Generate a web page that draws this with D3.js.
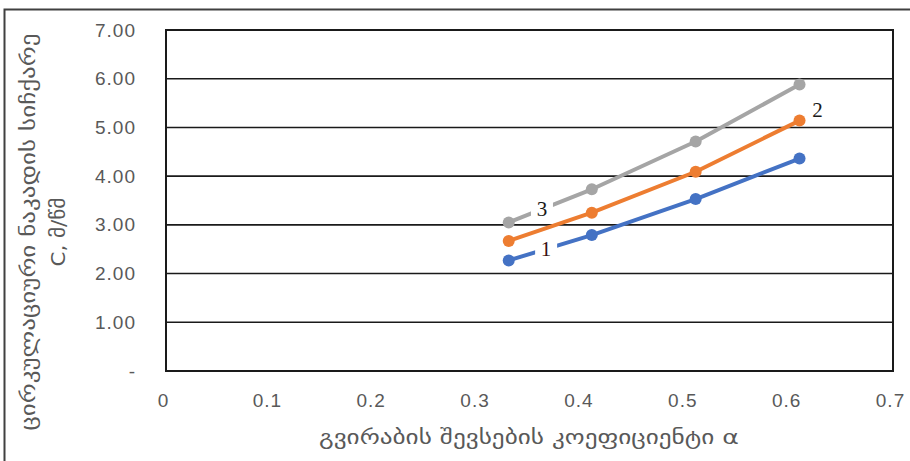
<!DOCTYPE html>
<html>
<head>
<meta charset="utf-8">
<script src="https://cdn.jsdelivr.net/npm/d3@7"></script>
<style>
  html, body { margin: 0; padding: 0; background: #fff; }
  svg { display: block; }
</style>
</head>
<body>
<svg id="chart" width="910" height="461"></svg>
<script>
// Filling coefficient of the tunnel (x) and circulation flow velocity (y, m/s)
const alphaValues = [0.33, 0.41, 0.51, 0.61];
const series1 = [2.27, 2.79, 3.53, 4.36];
const series2 = [2.67, 3.25, 4.09, 5.14];
const series3 = [3.05, 3.73, 4.71, 5.88];
const seriesNames = ["1", "2", "3"];
const seriesColors = ["#4472C4", "#ED7D31", "#A5A5A5"];
const xTicks = [0, 0.1, 0.2, 0.3, 0.4, 0.5, 0.6, 0.7];
const yTicks = [0, 1, 2, 3, 4, 5, 6, 7];
const xTitle = "გვირაბის შევსების კოეფიციენტი α";
const yTitleLines = ["ცირკულაციური ნაკადის სიჩქარე", "C, მ/წმ"];

const svg = d3.select("#chart");
const plot = { left: 166, right: 893, top: 30, bottom: 371 };

const x = d3.scaleLinear().domain([0, 0.7]).range([plot.left, plot.right]);
const y = d3.scaleLinear().domain([0, 7]).range([plot.bottom, plot.top]);

const font = "'Liberation Sans', Arial, sans-serif";
const geoFont = "'DejaVu Sans', sans-serif";

// outer chart border
svg.append("rect")
  .attr("x", 4.5).attr("y", 9.5)
  .attr("width", 920).attr("height", 470)
  .attr("fill", "none").attr("stroke", "#404040").attr("stroke-width", 2);

// horizontal gridlines
svg.append("g")
  .selectAll("line")
  .data(yTicks.filter(d => d > 0 && d < 7))
  .join("line")
  .attr("x1", plot.left).attr("x2", plot.right)
  .attr("y1", d => y(d)).attr("y2", d => y(d))
  .attr("stroke", "#1a1a1a").attr("stroke-width", 1.6);

// plot frame
svg.append("rect")
  .attr("x", plot.left).attr("y", plot.top)
  .attr("width", plot.right - plot.left).attr("height", plot.bottom - plot.top)
  .attr("fill", "none").attr("stroke", "#1a1a1a").attr("stroke-width", 2);

// y axis (labels only, ticks drawn as gridlines)
const yAxis = d3.axisLeft(y)
  .tickValues(yTicks)
  .tickSize(0)
  .tickPadding(0)
  .tickFormat(d => d === 0 ? "-" : d3.format(".2f")(d));
const gy = svg.append("g").attr("transform", `translate(${plot.left - 30},0)`).call(yAxis);
gy.select(".domain").remove();
gy.selectAll("text")
  .attr("font-family", font).attr("font-size", 19).attr("fill", "#595959")
  .attr("letter-spacing", 1);

// x axis
const xAxis = d3.axisBottom(x)
  .tickValues(xTicks)
  .tickSize(0)
  .tickPadding(0)
  .tickFormat(d => d === 0 ? "0" : d3.format(".1f")(d));
const gx = svg.append("g").attr("transform", `translate(-3,${plot.bottom + 22})`).call(xAxis);
gx.select(".domain").remove();
gx.selectAll("text")
  .attr("font-family", font).attr("font-size", 19).attr("fill", "#595959")
  .attr("letter-spacing", 1)
  .attr("dy", "0.71em");

// axis titles
svg.append("text")
  .attr("x", 529).attr("y", 444)
  .attr("text-anchor", "middle")
  .attr("font-family", geoFont).attr("font-size", 19)
  .attr("textLength", 420).attr("lengthAdjust", "spacingAndGlyphs")
  .attr("fill", "#595959")
  .text(xTitle);

const yTitleLens = [397, 69];
const yTitle = svg.append("text")
  .attr("transform", "translate(35,232) rotate(-90)")
  .attr("text-anchor", "middle")
  .attr("font-family", geoFont).attr("font-size", 19)
  .attr("fill", "#595959");
yTitle.selectAll("tspan")
  .data(yTitleLines)
  .join("tspan")
  .attr("x", 0)
  .attr("dy", (d, i) => i === 0 ? 0 : 30)
  .attr("textLength", (d, i) => yTitleLens[i])
  .attr("lengthAdjust", "spacingAndGlyphs")
  .text(d => d);

// series lines and markers
const allSeries = [series1, series2, series3].map((vals, i) => ({
  name: seriesNames[i],
  color: seriesColors[i],
  points: alphaValues.map((a, j) => ({ a, v: vals[j] }))
}));

const line = d3.line().x(d => x(d.a)).y(d => y(d.v));

const gSeries = svg.append("g");
allSeries.forEach(s => {
  gSeries.append("path")
    .datum(s.points)
    .attr("d", line)
    .attr("fill", "none")
    .attr("stroke", s.color)
    .attr("stroke-width", 4)
    .attr("stroke-linejoin", "round");
  gSeries.append("g")
    .selectAll("circle")
    .data(s.points)
    .join("circle")
    .attr("cx", d => x(d.a)).attr("cy", d => y(d.v))
    .attr("r", 6)
    .attr("fill", s.color);
});

// series labels; the ones sitting on a line get a white backing
const labelSpecs = [
  { series: 0, seg: 0, t: 0.45, dx: 0, dy: -1, backed: true },
  { series: 1, seg: 3, t: 1, dx: 18, dy: -11, backed: false },
  { series: 2, seg: 0, t: 0.4, dx: 0, dy: -1, backed: true }
];
labelSpecs.forEach(l => {
  const s = allSeries[l.series];
  const p0 = s.points[l.seg];
  const p1 = s.points[Math.min(l.seg + 1, s.points.length - 1)];
  const cx = x(p0.a) + (x(p1.a) - x(p0.a)) * l.t + l.dx;
  const cy = y(p0.v) + (y(p1.v) - y(p0.v)) * l.t + l.dy;
  const g = svg.append("g").attr("transform", `translate(${cx},${cy})`);
  if (l.backed) {
    g.append("rect")
      .attr("x", -11).attr("y", -12).attr("width", 22).attr("height", 24)
      .attr("fill", "#fff");
  }
  g.append("text")
    .attr("text-anchor", "middle")
    .attr("dy", "0.36em")
    .attr("font-family", "'Liberation Serif', serif").attr("font-size", 21)
    .attr("fill", l.series === 0 ? "#3a1010" : "#1a1a1a")
    .text(s.name);
});
</script>
</body>
</html>
